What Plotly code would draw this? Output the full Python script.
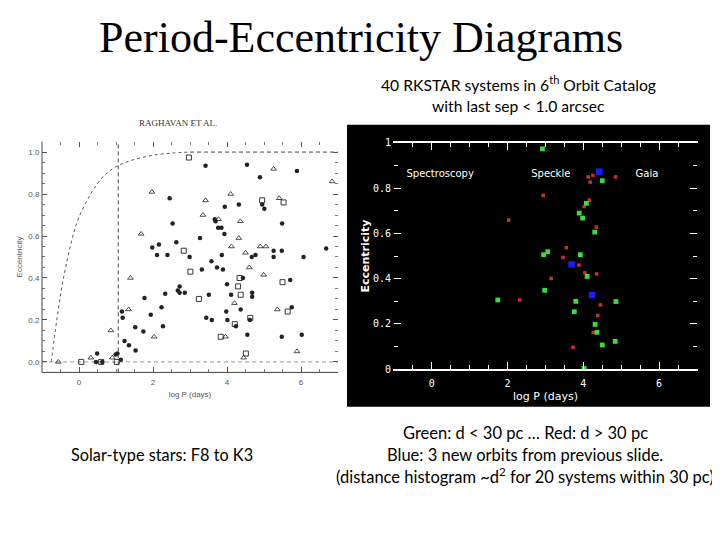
import plotly.graph_objects as go

# ---------------- Left panel data (Raghavan et al.) ----------------
dots_logP = [0.49, 0.46, 0.63, 0.99, 1.04, 1.13, 1.16, 1.18, 1.23, 1.35, 1.52, 1.53, 1.74, 1.77,
             1.94, 1.98, 2.11, 2.16, 2.23, 2.27, 2.33, 2.39, 2.45, 2.53, 2.63, 2.67, 2.72, 2.72,
             2.86, 2.99, 3.27, 3.32, 3.42, 3.44, 3.51, 3.59, 3.58, 3.67, 3.69, 3.73, 3.76, 3.85,
             3.86, 3.89, 3.94, 3.93, 4.00, 3.98, 4.01, 4.11, 4.24, 4.32, 4.37, 4.43, 4.55, 4.54,
             4.67, 4.68, 4.68, 4.62, 4.77, 4.89, 4.95, 5.01, 5.26, 5.26, 5.48, 5.49, 5.48, 5.71,
             5.75, 5.89, 6.02, 6.07, 6.68]
dots_ecc = [0.04, 0.0, 0.0, 0.035, 0.04, 0.01, 0.24, 0.21, 0.10, 0.08, 0.165, 0.055, 0.145, 0.305,
            0.225, 0.545, 0.51, 0.56, 0.26, 0.17, 0.325, 0.51, 0.78, 0.66, 0.57, 0.34, 0.36, 0.33,
            0.33, 0.50, 0.59, 0.44, 0.935, 0.21, 0.32, 0.20, 0.48, 0.68, 0.67, 0.45, 0.64, 0.64,
            0.51, 0.44, 0.74, 0.61, 0.37, 0.24, 0.20, 0.32, 0.17, 0.75, 0.25, 0.40, 0.13, 0.94,
            0.50, 0.33, 0.31, 0.20, 0.51, 0.88, 0.75, 0.73, 0.53, 0.50, 0.53, 0.66, 0.12, 0.39,
            0.26, 0.91, 0.13, 0.50, 0.54]

tri_logP = [-0.56, 0.32, 0.90, 0.86, 1.34, 1.39, 2.03, 1.97, 1.68, 3.42, 3.35, 3.77, 4.10, 4.36,
            4.32, 4.12, 4.50, 4.60, 4.90, 5.05, 4.99, 4.20, 3.96, 4.45, 5.26, 5.41, 6.84, 5.36, 5.89]
tri_ecc = [0.0, 0.02, 0.02, 0.15, 0.25, 0.40, 0.12, 0.81, 0.61, 0.77, 0.70, 0.68, 0.80, 0.67,
           0.59, 0.55, 0.52, 0.45, 0.55, 0.55, 0.415, 0.28, 0.12, 0.02, 0.92, 0.78, 0.86, 0.25, 0.05]

sq_logP = [2.97, 2.83, 3.01, 3.24, 4.95, 5.53, 4.34, 4.30, 4.37, 5.50, 5.64, 4.21, 3.83, 4.51,
           1.02, 0.60, 0.06, 4.63]
sq_ecc = [0.974, 0.53, 0.43, 0.30, 0.77, 0.76, 0.40, 0.36, 0.32, 0.38, 0.24, 0.18, 0.12, 0.04,
          0.0, 0.0, 0.0, 0.21]

# reference curve (maximum eccentricity envelope)
env_logP = [-0.75, -0.6, -0.45, -0.3, -0.15, 0.0, 0.25, 0.5, 0.75, 1.0, 1.25, 1.5, 2.0, 2.5, 3.0]
env_ecc = [0.0, 0.20, 0.37, 0.50, 0.61, 0.69, 0.78, 0.85, 0.90, 0.93, 0.95, 0.965, 0.985, 0.995, 1.0]
circ_logP = 1.06           # vertical dashed line
upper_line_logP = [3.0, 7.0]
upper_line_ecc = [1.0, 1.0]
zero_line_logP = [-1.0, 7.0]
zero_line_ecc = [0.0, 0.0]

# ---------------- Right panel data (6th Orbit Catalog) ----------------
green_logP = [2.92, 4.50, 4.08, 3.89, 3.98, 4.30, 2.95, 3.06, 3.92, 4.10, 2.98, 1.74, 3.80, 4.86,
              3.76, 4.31, 4.36, 4.84, 4.50, 4.02]
green_ecc = [0.974, 0.833, 0.733, 0.690, 0.668, 0.606, 0.506, 0.519, 0.506, 0.41, 0.349, 0.306,
             0.30, 0.299, 0.254, 0.198, 0.163, 0.123, 0.107, 0.003]
red_logP = [4.85, 4.13, 4.25, 4.18, 2.94, 4.16, 4.02, 2.03, 4.34, 3.55, 3.46, 3.88, 4.04, 4.35,
            3.15, 2.32, 4.45, 4.38, 4.26, 3.73]
red_ecc = [0.85, 0.85, 0.857, 0.827, 0.768, 0.747, 0.719, 0.659, 0.628, 0.537, 0.494, 0.460,
           0.426, 0.421, 0.401, 0.306, 0.284, 0.237, 0.162, 0.097]
blue_logP = [4.42, 3.69, 4.23]
blue_ecc = [0.873, 0.463, 0.328]

region_labels = ["Spectroscopy", "Speckle", "Gaia"]
region_logP = [0.22, 3.14, 5.68]
region_ecc = 0.86

fig = go.Figure()

# ---- left panel traces
ink = "#222222"
fig.add_trace(go.Scatter(x=env_logP, y=env_ecc, mode="lines", line=dict(color="#555", width=1, dash="dot", shape="spline"),
                         xaxis="x", yaxis="y", hoverinfo="skip"))
fig.add_trace(go.Scatter(x=upper_line_logP, y=upper_line_ecc, mode="lines", line=dict(color="#444", width=1, dash="4px,3px"),
                         xaxis="x", yaxis="y", hoverinfo="skip"))
fig.add_trace(go.Scatter(x=zero_line_logP, y=zero_line_ecc, mode="lines", line=dict(color="#999", width=1, dash="4px,3px"),
                         xaxis="x", yaxis="y", hoverinfo="skip"))
fig.add_trace(go.Scatter(x=[circ_logP, circ_logP], y=[-0.05, 1.05], mode="lines",
                         line=dict(color="#444", width=1, dash="4px,3px"), xaxis="x", yaxis="y", hoverinfo="skip"))
fig.add_trace(go.Scatter(x=dots_logP, y=dots_ecc, mode="markers", marker=dict(symbol="circle", size=4.5, color=ink),
                         xaxis="x", yaxis="y", cliponaxis=False))
fig.add_trace(go.Scatter(x=tri_logP, y=tri_ecc, mode="markers",
                         marker=dict(symbol="triangle-up-open", size=5, color=ink, line=dict(width=0.8)),
                         xaxis="x", yaxis="y", cliponaxis=False))
fig.add_trace(go.Scatter(x=sq_logP, y=sq_ecc, mode="markers",
                         marker=dict(symbol="square-open", size=5, color=ink, line=dict(width=0.9)),
                         xaxis="x", yaxis="y", cliponaxis=False))

# ---- right panel traces
fig.add_trace(go.Scatter(x=red_logP, y=red_ecc, mode="markers", marker=dict(symbol="square", size=3.5, color="#c8302a"),
                         xaxis="x2", yaxis="y2", cliponaxis=False))
fig.add_trace(go.Scatter(x=green_logP, y=green_ecc, mode="markers", marker=dict(symbol="square", size=4.8, color="#3ddc3d"),
                         xaxis="x2", yaxis="y2", cliponaxis=False))
fig.add_trace(go.Scatter(x=blue_logP, y=blue_ecc, mode="markers", marker=dict(symbol="square", size=6.5, color="#1a1aff"),
                         xaxis="x2", yaxis="y2", cliponaxis=False))
fig.add_trace(go.Scatter(x=region_logP, y=[region_ecc] * 3, mode="text", text=region_labels,
                         textfont=dict(color="white", size=10, family="DejaVu Sans"),
                         xaxis="x2", yaxis="y2", cliponaxis=False))

# the page body has an 8px margin: the figure occupies page pixels 8..720 x 8..540
OFF = 8
W, H = 712, 532
def px(x): return (x - OFF) / W
def py(y): return 1 - (y - OFF) / H

gray = "#555555"
clear = "rgba(0,0,0,0)"
gray_tick = dict(color=gray, size=8, family="Liberation Sans")
LXD = [px(42), px(338)]
LYD = [py(375), py(139.3)]
RXD = [px(394), px(697)]
RYD = [py(371.7), py(140.7)]

fig.update_layout(
    width=W, height=H, showlegend=False,
    paper_bgcolor="white", plot_bgcolor=clear,
    margin=dict(l=0, r=0, t=0, b=0),
    xaxis=dict(domain=LXD, anchor="y", range=[-1, 7], showgrid=False, zeroline=False,
               showline=True, linecolor=clear, mirror="ticks", ticks="inside", ticklen=5,
               tickcolor=gray, dtick=2, tickfont=gray_tick, ticklabelstandoff=2,
               minor=dict(dtick=0.5, ticks="inside", ticklen=3, tickcolor="#777"),
               title=dict(text="log P (days)", font=dict(color=gray, size=8, family="Liberation Sans"), standoff=5)),
    yaxis=dict(domain=LYD, anchor="x", range=[-0.05, 1.05], showgrid=False, zeroline=False,
               showline=True, linecolor=clear, mirror="ticks", ticks="inside", ticklen=5, tickcolor=gray,
               tickvals=[0, 0.2, 0.4, 0.6, 0.8, 1.0], ticktext=["0.0", "0.2", "0.4", "0.6", "0.8", "1.0"],
               tickfont=gray_tick, minor=dict(dtick=0.05, ticks="inside", ticklen=3, tickcolor="#777"),
               title=dict(text="Eccentricity", font=dict(color=gray, size=8, family="Liberation Sans"), standoff=4)),
    xaxis2=dict(domain=RXD, range=[-1, 7], anchor="y2", showgrid=False, zeroline=False,
                showline=True, linecolor="white", linewidth=1.5, mirror="ticks", ticks="inside", ticklen=7,
                tickcolor="white", tickvals=[0, 2, 4, 6], ticktext=["0", "2", "4", "6"], ticklabelstandoff=4,
                tickfont=dict(color="white", size=10, family="DejaVu Sans Mono"),
                minor=dict(dtick=0.5, ticks="inside", ticklen=4, tickcolor="white"),
                title=dict(text="log P (days)", font=dict(color="white", size=11, family="DejaVu Sans"), standoff=4)),
    yaxis2=dict(domain=RYD, range=[0, 1], anchor="x2", showgrid=False, zeroline=False,
                showline=True, linecolor=clear, mirror="ticks", ticks="inside", ticklen=7, tickcolor="white",
                tickvals=[0, 0.2, 0.4, 0.6, 0.8, 1.0], ticktext=["0", "0.2", "0.4", "0.6", "0.8", "1"],
                tickfont=dict(color="white", size=10, family="DejaVu Sans Mono"),
                minor=dict(dtick=0.1, ticks="inside", ticklen=4, tickcolor="white"),
                title=dict(text="<b>Eccentricity</b>", font=dict(color="white", size=11, family="DejaVu Sans"), standoff=1)),
    shapes=[
        dict(type="rect", xref="paper", yref="paper", x0=px(347), x1=px(710), y0=py(410), y1=py(122),
             fillcolor="black", line=dict(width=0), layer="below"),
        dict(type="line", xref="x domain", yref="y domain", x0=0, x1=0, y0=0, y1=1, line=dict(color="#444", width=1)),
        dict(type="line", xref="x domain", yref="y domain", x0=0, x1=1, y0=0, y1=0, line=dict(color="#444", width=1)),
    ],
)

body_font = "Lato"
ann = [
    dict(text="Period-Eccentricity Diagrams", x=px(361), y=py(33), font=dict(family="Liberation Serif", size=44, color="black")),
    dict(text="40 RKSTAR systems in 6<sup>th</sup> Orbit Catalog", x=px(518), y=py(80), font=dict(family=body_font, size=15.7, color="black")),
    dict(text="with last sep < 1.0 arcsec", x=px(518), y=py(103), font=dict(family=body_font, size=15.7, color="black")),
    dict(text="RAGHAVAN ET AL.", x=px(178), y=py(120), font=dict(family="Liberation Serif", size=9, color="#333")),
    dict(text="Solar-type stars: F8 to K3", x=px(162), y=py(459), font=dict(family=body_font, size=16.3, color="black")),
    dict(text="Green: d < 30 pc … Red: d > 30 pc", x=px(525), y=py(437), font=dict(family=body_font, size=16.5, color="black")),
    dict(text="Blue: 3 new orbits from previous slide.", x=px(525), y=py(459), font=dict(family=body_font, size=16.5, color="black")),
    dict(text="(distance histogram ~d<sup>2</sup> for 20 systems within 30 pc)", x=px(525), y=py(481),
         font=dict(family=body_font, size=16.5, color="black")),
]
for a in ann:
    fig.add_annotation(xref="paper", yref="paper", showarrow=False, xanchor="center", yanchor="middle", **a)

fig.write_html("out.html")
